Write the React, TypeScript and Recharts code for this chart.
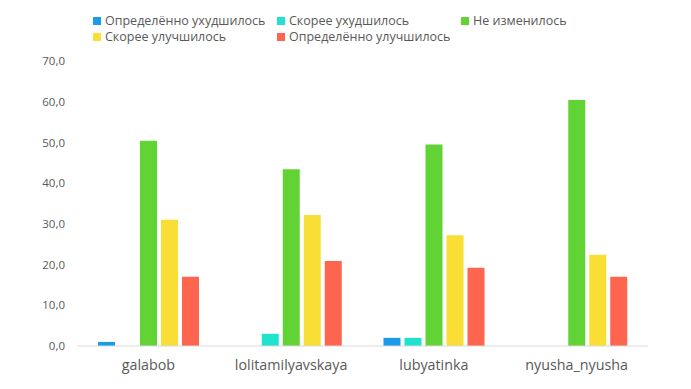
import React from "react";
import { BarChart, Bar, XAxis, YAxis } from "recharts";

const categories = ["galabob", "lolitamilyavskaya", "lubyatinka", "nyusha_nyusha"];
const defWorse = [1.0, 0, 2.0, 0];
const ratherWorse = [0, 3.0, 2.0, 0];
const unchanged = [50.4, 43.4, 49.5, 60.4];
const ratherBetter = [31.0, 32.2, 27.2, 22.4];
const defBetter = [17.0, 20.9, 19.2, 17.0];
const yTicks = [0, 10, 20, 30, 40, 50, 60, 70];

const series = [
  { key: "defWorse", name: "Определённо ухудшилось", color: "#1b9be9", values: defWorse },
  { key: "ratherWorse", name: "Скорее ухудшилось", color: "#1fe3cf", values: ratherWorse },
  { key: "unchanged", name: "Не изменилось", color: "#62d335", values: unchanged },
  { key: "ratherBetter", name: "Скорее улучшилось", color: "#f9df35", values: ratherBetter },
  { key: "defBetter", name: "Определённо улучшилось", color: "#fe654f", values: defBetter },
];

const data = categories.map((c, i) => {
  const row: Record<string, string | number> = { name: c };
  series.forEach((s) => (row[s.key] = s.values[i]));
  return row;
});

// legend slots, 3 per row like the original
const legendPos = [
  { left: 93, top: 14 },
  { left: 277, top: 14 },
  { left: 461, top: 14 },
  { left: 93, top: 30 },
  { left: 277, top: 30 },
];

const font = "'Open Sans', sans-serif";

export default function App() {
  return (
    <div style={{ position: "absolute", left: 0, top: 0, width: 691, height: 389, background: "#fff", fontFamily: font }}>
      {series.map((s, i) => (
        <div
          key={s.key}
          style={{
            position: "absolute",
            left: legendPos[i].left,
            top: legendPos[i].top,
            display: "flex",
            alignItems: "center",
            fontSize: 12.5,
            color: "#595959",
            lineHeight: "14px",
            height: 14,
            whiteSpace: "nowrap",
          }}
        >
          <span style={{ display: "inline-block", width: 8, height: 8, background: s.color, marginRight: 4 }} />
          {s.name}
        </div>
      ))}
      <BarChart
        width={691}
        height={389}
        data={data}
        margin={{ top: 61, right: 43, bottom: 13, left: 0 }}
        barSize={17}
        barGap={4}
      >
        <XAxis
          dataKey="name"
          axisLine={{ stroke: "#d9d9d9" }}
          tickLine={false}
          height={30}
          tickMargin={8}
          tick={{ fill: "#595959", fontSize: 14.3, fontFamily: font }}
        />
        <YAxis
          domain={[0, 70]}
          ticks={yTicks}
          width={77}
          axisLine={false}
          tickLine={false}
          tickSize={0}
          tickMargin={12}
          tickFormatter={(v: number) => v.toFixed(1).replace(".", ",")}
          tick={{ fill: "#595959", fontSize: 11.5, fontFamily: font }}
        />
        {series.map((s) => (
          <Bar key={s.key} dataKey={s.key} name={s.name} fill={s.color} isAnimationActive={false} />
        ))}
      </BarChart>
    </div>
  );
}
